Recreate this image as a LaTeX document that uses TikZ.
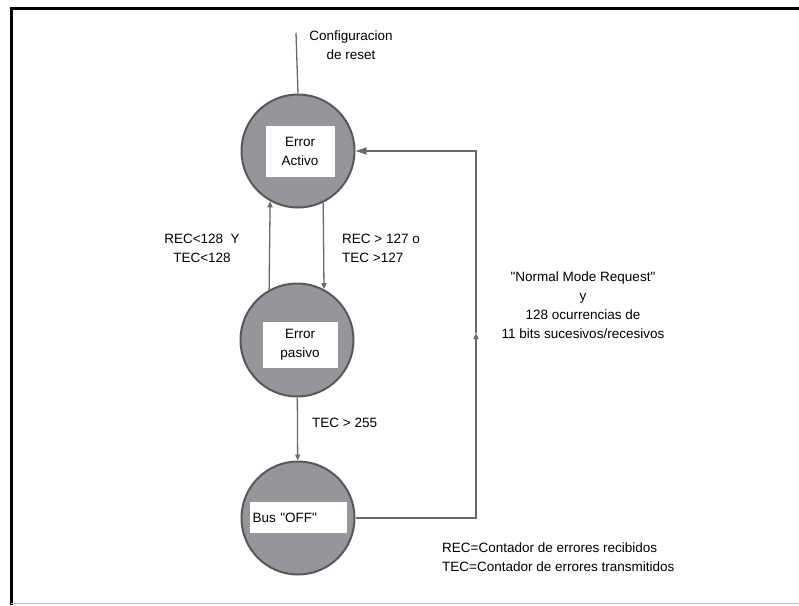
\documentclass[tikz,border=0pt]{standalone}
\usepackage{fontspec}
\setmainfont{Liberation Sans}[Ligatures=TeXOff]
\usepackage{xcolor}
\usepackage{tikz}
\usetikzlibrary{arrows.meta, positioning, calc}

\definecolor{relleno}{RGB}{150,150,154}
\definecolor{borde}{RGB}{88,88,90}
\definecolor{linea}{RGB}{105,105,105}

\begin{document}
\begin{tikzpicture}[x=1pt, y=-1pt,
    estado/.style={circle, draw=borde, fill=relleno, line width=2pt, minimum size=113pt, inner sep=0pt},
    caja/.style={rectangle, fill=white, align=center, inner sep=0pt, font=\fontsize{13.5}{19}\selectfont},
    etiq/.style={align=center, inner sep=0pt, font=\fontsize{13.5}{19}\selectfont},
    arr/.style={-{Triangle[length=6pt, width=5pt]}, line width=1.3pt, draw=linea},
    lin/.style={line width=1.3pt, draw=linea}
]
    % marco y limites
    \useasboundingbox (0,0) rectangle (799,605);
    \draw[line width=3pt] (11,605) -- (11,8) -- (799,8);
    \draw[line width=0.8pt, draw=black!25] (11,603) -- (799,603);

    % Estados
    \node[estado] (activo) at (298,151) {};
    \node[caja, minimum width=69pt, minimum height=51pt] (activoTxt) at (300,151.5) {Error\\Activo};

    \node[estado] (pasivo) at (297,340) {};
    \node[caja, minimum width=75pt, minimum height=46pt] (pasivoTxt) at (300,345) {Error\\pasivo};

    \node[estado] (busoff) at (298,518) {};
    \node[caja, minimum width=97pt, minimum height=31pt, text width=91pt, align=left] (busoffTxt) at (298,517.5) {Bus "OFF"};

    % Reset
    \coordinate (reset) at (296,33);
    \draw[lin] (reset) -- (activo.north);
    \node[etiq] (resetTxt) at (351,45) {Configuracion\\de reset};

    % Activo <-> pasivo
    \draw[arr] (pasivo.119) -- (activo.241);
    \node[etiq] (subeTxt) at (202,248) {REC<128 \ Y\\TEC<128};

    \draw[arr] (activo.296) -- (pasivo.62);
    \node[etiq, anchor=west, align=left] (bajaTxt) at (342,248) {REC > 127 o\\TEC >127};

    % Pasivo -> bus off
    \draw[arr] (pasivo) -- (busoff);
    \node[etiq, anchor=west] (offTxt) at (312,423) {TEC > 255};

    % Retorno a error activo
    \coordinate (retorno) at (476,333);
    \draw[arr] (busoff.east) -| (retorno);
    \draw[lin, -{Triangle[length=11pt, width=7pt]}] (retorno) |- (activo.east);
    \node[etiq] (retornoTxt) at (583,305) {"Normal Mode Request"\\y\\128 ocurrencias de\\11 bits sucesivos/recesivos};

    % Leyenda
    \node[etiq, anchor=west, align=left] (leyenda) at (442,557) {REC=Contador de errores recibidos\\TEC=Contador de errores transmitidos};
\end{tikzpicture}
\end{document}
